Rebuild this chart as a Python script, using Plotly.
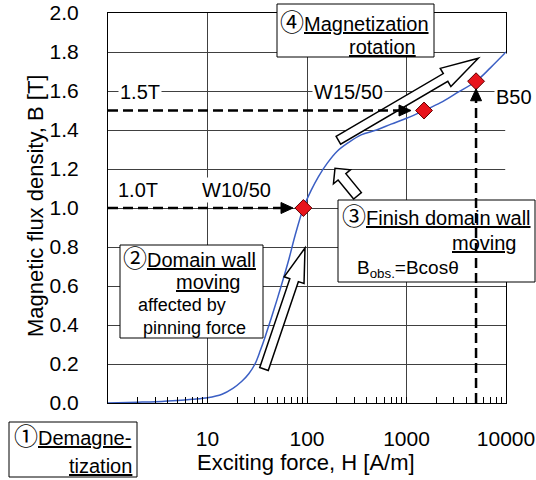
import math
import plotly.graph_objects as go

# ---------------- data ----------------
H_curve = [1, 2, 3, 5, 7, 10, 14, 18, 22, 26, 30, 34, 38, 44, 50, 58, 66, 76, 92,
           110, 130, 160, 200, 260, 350, 500, 700, 1000, 1500, 2200, 3200, 5000, 7000, 10000]
B_curve = [0.0, 0.004, 0.007, 0.013, 0.019, 0.027, 0.045, 0.075, 0.11, 0.15, 0.20, 0.27, 0.34,
           0.44, 0.53, 0.64, 0.74, 0.86, 1.00, 1.09, 1.16, 1.23, 1.29, 1.335, 1.375, 1.40, 1.43,
           1.46, 1.50, 1.54, 1.59, 1.65, 1.72, 1.80]
marker_H = [92, 1500, 5000]
marker_B = [1.0, 1.5, 1.65]
x_tick_vals = [10, 100, 1000, 10000]
x_tick_text = ["10", "100", "1000", "10000"]
y_tick_vals = [0.0, 0.2, 0.4, 0.6, 0.8, 1.0, 1.2, 1.4, 1.6, 1.8, 2.0]
y_tick_text = ["0.0", "0.2", "0.4", "0.6", "0.8", "1.0", "1.2", "1.4", "1.6", "1.8", "2.0"]

# ---------------- layout constants ----------------
W, HGT = 536, 480
ML, MR, MT, MB = 108, 30, 13, 77
PW = W - ML - MR
PH = HGT - MT - MB
DEC_PX = PW / 4.0
B_PX = PH / 2.0
FONT = "Liberation Sans, Arial, Noto Sans CJK JP, sans-serif"
CJK = "Noto Sans CJK JP"


def paper(px, py):
    return (px - ML) / PW, (MT + PH - py) / PH


def circ(ch):
    return f"<span style='font-family:{CJK};font-size:24px'>{ch}</span>"


def block_arrow(tail, tip, s, h, L):
    tx, ty = tail
    px_, py_ = tip
    dx, dy = px_ - tx, py_ - ty
    n = math.hypot(dx, dy)
    ux, uy = dx / n, dy / n
    nx, ny = -uy, ux
    bx, by = px_ - L * ux, py_ - L * uy
    pts = [(tx + s * nx, ty + s * ny), (bx + s * nx, by + s * ny), (bx + h * nx, by + h * ny),
           (px_, py_), (bx - h * nx, by - h * ny), (bx - s * nx, by - s * ny),
           (tx - s * nx, ty - s * ny)]
    return "M " + " L ".join(f"{x:.2f},{y:.2f}" for x, y in pts) + " Z"


def tri(tip, direction, L=12, hw=5.5):
    tx, ty = tip
    ux, uy = direction
    nx, ny = -uy, ux
    bx, by = tx - L * ux, ty - L * uy
    pts = [(tx, ty), (bx + hw * nx, by + hw * ny), (bx - hw * nx, by - hw * ny)]
    return "M " + " L ".join(f"{x:.2f},{y:.2f}" for x, y in pts) + " Z"


fig = go.Figure()
fig.add_trace(go.Scatter(x=H_curve, y=B_curve, mode="lines", line=dict(color="#3b5fc4", width=1.5, shape="spline"),
                         hoverinfo="skip", showlegend=False))
fig.add_trace(go.Scatter(x=marker_H, y=marker_B, mode="markers",
                         marker=dict(symbol="diamond", size=13, color="#e8141c", line=dict(color="#600000", width=1)),
                         showlegend=False))

shapes = []
# white cover of right border (as in reference)
cx0, cy0 = paper(505.2, 53.5)
cx1, cy1 = paper(507.5, 200)
shapes.append(dict(type="rect", xref="paper", yref="paper", x0=cx0, y0=cy0, x1=cx1, y1=cy1,
                   fillcolor="white", line=dict(width=0), layer="above"))

# boxes
boxes = [(277, 4, 434, 57), (9, 422, 137, 477), (120, 245, 263, 338), (338, 200, 535, 282)]
for (a, b, c, d) in boxes:
    x0, y0 = paper(a, d)
    x1, y1 = paper(c, b)
    shapes.append(dict(type="rect", xref="paper", yref="paper", x0=x0, y0=y0, x1=x1, y1=y1,
                       fillcolor="white", line=dict(color="black", width=1), layer="above"))

# block arrows (pixel offsets relative to data anchors, y up)
arrows = [
    ((1, 0.0), (-14, -20), (-1, 0), 4, 8.5, 10),
    ((marker_H[0], marker_B[0]), (-39.4, -161), (1.6, -40), 4.5, 10.5, 34),
    ((marker_H[0], marker_B[0]), (54.1, 12.2), (31.6, 39.7), 5, 11, 11),
    ((marker_H[2], marker_B[2]), (-137.7, -59), (2.3, 23), 4.5, 10.5, 38),
]
for (anc, tail, tip, s, h, L) in arrows:
    shapes.append(dict(type="path", xref="x", yref="y", xsizemode="pixel", ysizemode="pixel",
                       xanchor=anc[0], yanchor=anc[1], path=block_arrow(tail, tip, s, h, L),
                       fillcolor="white", line=dict(color="black", width=1.5), layer="above"))

dash = dict(color="black", width=2.5, dash="10px,5px")
# horizontal dashed at 1.0 T
shapes.append(dict(type="line", xref="x", yref="y", x0=1, x1=marker_H[0] * 10 ** (-16 / DEC_PX),
                   y0=marker_B[0], y1=marker_B[0], line=dash, layer="above"))
shapes.append(dict(type="path", xref="x", yref="y", xsizemode="pixel", ysizemode="pixel",
                   xanchor=marker_H[0], yanchor=marker_B[0], path=tri((-10.4, 0), (1, 0)),
                   fillcolor="black", line=dict(color="black", width=1), layer="above"))
# horizontal dashed at 1.5 T
shapes.append(dict(type="line", xref="x", yref="y", x0=1, x1=marker_H[1] * 10 ** (-19 / DEC_PX),
                   y0=marker_B[1], y1=marker_B[1], line=dash, layer="above"))
shapes.append(dict(type="path", xref="x", yref="y", xsizemode="pixel", ysizemode="pixel",
                   xanchor=marker_H[1], yanchor=marker_B[1], path=tri((-13, 0), (1, 0)),
                   fillcolor="black", line=dict(color="black", width=1), layer="above"))
# vertical dashed at B50
shapes.append(dict(type="line", xref="x", yref="y", x0=marker_H[2], x1=marker_H[2],
                   y0=0, y1=marker_B[2] - 13 / B_PX, line=dash, layer="above"))
shapes.append(dict(type="path", xref="x", yref="y", xsizemode="pixel", ysizemode="pixel",
                   xanchor=marker_H[2], yanchor=marker_B[2], path=tri((0, -7.5), (0, 1)),
                   fillcolor="black", line=dict(color="black", width=1), layer="above"))

ann = []


def txt(text, px, py, size=20, xanchor="left", bg=None, angle=0):
    x, y = paper(px, py)
    d = dict(text=text, x=x, y=y, xref="paper", yref="paper", xanchor=xanchor, yanchor="middle",
             showarrow=False, font=dict(size=size, color="black", family=FONT), textangle=angle)
    if bg:
        d["bgcolor"] = bg
        d["borderpad"] = 1
    ann.append(d)


# labels on the dashed lines
txt("1.5T", 140, 92, 20, "center", "white")
txt("W15/50", 348.5, 92, 20, "center", "white")
txt("1.0T", 137.5, 190, 20, "center", "white")
txt("W10/50", 236.5, 190, 20, "center", "white")
txt("B50", 513.5, 97, 20, "center", "white")

# box texts
txt(circ("④") + "<u>Magnetization</u>", 278, 20, 20)
txt("<u>rotation</u>", 418, 47, 20, "right")
txt(circ("①") + "<u>Demagne-</u>", 12, 434, 20)
txt("<u>tization</u>", 134, 466, 20, "right")
txt(circ("②") + "<u>Domain wall</u>", 121, 256, 20)
txt("<u>moving</u>", 242, 282, 20, "right")
txt("affected by", 136, 305, 18)
txt("pinning force", 141, 328, 18)
txt(circ("③") + "<u>Finish domain wall</u>", 340, 215, 20)
txt("<u>moving</u>", 518, 243, 20, "right")
txt("B<sub>obs.</sub>=Bcosθ", 355, 269, 19)

# axis titles
txt("Exciting force, H [A/m]", 306, 463, 22, "center")
txt("Magnetic flux density, B [T]", 35, 206, 22, "center", angle=-90)

fig.update_layout(
    width=W, height=HGT,
    margin=dict(l=ML, r=MR, t=MT, b=MB, autoexpand=False),
    paper_bgcolor="white", plot_bgcolor="white",
    font=dict(family=FONT, size=21, color="black"),
    shapes=shapes, annotations=ann,
    xaxis=dict(type="log", range=[0, 4], tickvals=x_tick_vals, ticktext=x_tick_text,
               showgrid=True, gridcolor="#404040", gridwidth=1,
               showline=True, linecolor="black", linewidth=1, mirror=True,
               ticks="inside", ticklen=6, tickcolor="black", ticklabelstandoff=17,
               minor=dict(ticks="inside", ticklen=6, tickcolor="black", dtick="D1", showgrid=False),
               zeroline=False, fixedrange=True, tickfont=dict(size=21)),
    yaxis=dict(range=[0, 2], tickvals=y_tick_vals, ticktext=y_tick_text,
               showgrid=True, gridcolor="#404040", gridwidth=1,
               showline=True, linecolor="black", linewidth=1, mirror=True,
               ticks="", ticklabelstandoff=24, zeroline=False, fixedrange=True,
               tickfont=dict(size=21)),
    showlegend=False,
)

fig.write_html("out.html", config={"displayModeBar": False},
               post_script="document.body.style.margin='0px';document.body.style.overflow='hidden';")
